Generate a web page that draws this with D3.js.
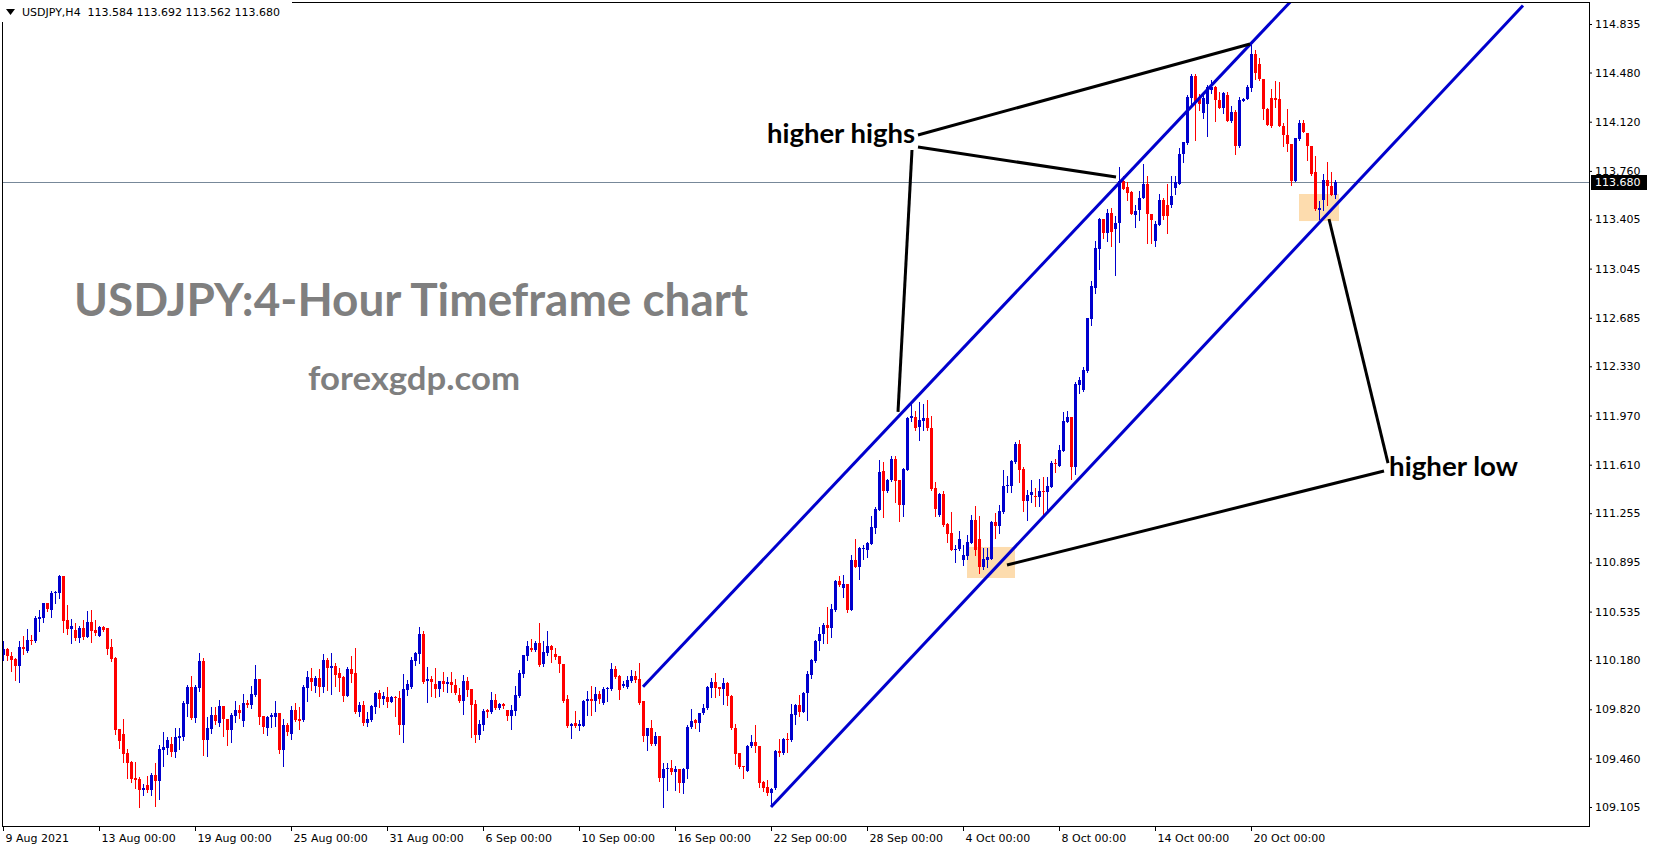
<!DOCTYPE html>
<html><head><meta charset="utf-8">
<script src="https://cdn.jsdelivr.net/npm/d3@7"></script>
<style>body{margin:0;background:#fff;overflow:hidden}svg{display:block}</style>
</head><body><svg id="c" width="1653" height="850"></svg>
<script>
const symbolInfo = "USDJPY,H4  113.584 113.692 113.562 113.680";
const titleText = "USDJPY:4-Hour Timeframe chart";
const siteText = "forexgdp.com";

const openP = [
110.218,110.262,110.211,110.189,110.137,110.276,110.247,110.330,110.320,110.481,
110.489,110.598,110.547,110.669,110.672,110.796,110.474,110.408,110.401,110.342,
110.415,110.350,110.459,110.401,110.357,110.423,110.415,110.276,110.196,109.676,
109.640,109.501,109.435,109.318,109.311,109.230,109.267,109.230,109.340,109.296,
109.523,109.537,109.567,109.508,109.611,109.618,109.859,109.984,109.757,109.976,
110.174,109.596,109.676,109.779,109.720,109.845,109.750,109.669,109.772,109.815,
109.735,109.867,109.852,109.925,110.042,109.772,109.684,109.764,109.764,109.793,
109.523,109.706,109.640,109.815,109.750,109.742,109.976,110.050,109.991,110.050,
109.984,110.181,110.123,110.137,110.086,110.057,109.918,110.115,110.086,109.801,
109.852,109.720,109.742,109.837,109.940,109.896,109.911,109.874,109.911,109.903,
109.706,109.962,109.984,110.174,110.225,110.372,110.028,110.042,110.006,109.969,
110.028,110.006,110.020,109.998,109.925,109.881,110.028,109.969,109.859,109.632,
109.706,109.815,109.801,109.889,109.830,109.859,109.815,109.772,109.808,109.918,
110.079,110.211,110.269,110.255,110.306,110.152,110.233,110.284,110.225,110.211,
110.152,109.896,109.698,109.720,109.698,109.698,109.881,109.896,109.881,109.932,
109.867,109.969,109.969,110.115,110.064,109.991,109.984,110.028,110.064,110.042,
109.881,109.625,109.684,109.567,109.625,109.318,109.384,109.391,109.362,109.384,
109.281,109.384,109.691,109.742,109.720,109.793,109.830,109.976,110.020,109.984,
109.969,110.013,109.918,109.684,109.501,109.406,109.369,109.552,109.581,109.552,
109.289,109.252,109.208,109.245,109.515,109.501,109.603,109.596,109.779,109.852,
109.801,109.940,110.072,110.174,110.320,110.372,110.437,110.418,110.547,110.759,
110.706,110.737,110.547,110.913,110.864,110.996,110.986,111.032,111.150,111.279,
111.564,111.418,111.498,111.652,111.498,111.315,111.572,111.952,111.959,111.886,
111.930,111.952,111.879,111.440,111.242,111.396,111.176,111.111,110.986,110.993,
110.913,110.942,111.037,111.206,111.067,110.862,110.913,110.920,111.191,111.162,
111.264,111.454,111.454,111.630,111.762,111.579,111.345,111.389,111.381,111.374,
111.418,111.411,111.447,111.623,111.601,111.710,111.923,111.959,111.593,112.193,
112.157,112.296,112.676,112.903,113.189,113.408,113.306,113.455,113.335,113.379,
113.686,113.642,113.606,113.437,113.474,113.562,113.664,113.445,113.247,113.364,
113.547,113.511,113.511,113.637,113.667,113.884,113.964,114.293,114.454,114.286,
114.184,114.250,114.352,114.374,114.279,114.220,114.315,114.125,114.191,113.942,
114.272,114.286,114.367,114.615,114.542,114.433,114.213,114.293,114.293,114.286,
114.089,114.023,113.957,113.686,113.993,114.111,114.037,113.942,113.752,113.474,
113.547,113.693,113.650,113.584
];
const highP = [
110.320,110.267,110.240,110.198,110.320,110.357,110.408,110.364,110.503,110.547,
110.598,110.598,110.686,110.686,110.803,110.796,110.584,110.481,110.452,110.430,
110.474,110.540,110.547,110.474,110.430,110.430,110.415,110.335,110.203,109.676,
109.750,109.530,109.442,109.435,109.325,109.274,109.333,109.355,109.428,109.559,
109.655,109.618,109.618,109.684,109.684,109.881,109.998,110.064,109.998,110.233,
110.196,109.764,109.837,109.837,109.889,109.845,109.750,109.793,109.881,109.852,
109.932,109.889,109.991,110.145,110.042,109.772,109.772,109.793,109.881,109.793,
109.750,109.720,109.845,109.867,109.837,109.998,110.101,110.123,110.064,110.115,
110.225,110.196,110.233,110.159,110.123,110.064,110.130,110.211,110.269,109.874,
109.881,109.801,109.852,109.947,109.962,109.947,109.984,109.918,109.918,109.955,
110.079,110.035,110.203,110.240,110.423,110.393,110.130,110.064,110.123,110.028,
110.094,110.057,110.094,110.042,109.976,110.072,110.057,109.969,109.889,109.742,
109.823,109.823,109.947,109.932,109.867,109.867,109.815,109.852,109.991,110.108,
110.218,110.320,110.335,110.320,110.452,110.320,110.393,110.291,110.269,110.211,
110.152,109.925,109.720,109.808,109.742,109.889,109.955,109.991,109.984,109.955,
109.984,109.984,110.159,110.137,110.072,110.028,110.064,110.108,110.101,110.159,
109.881,109.684,109.742,109.655,109.625,109.428,109.428,109.450,109.406,109.384,
109.391,109.706,109.823,109.750,109.793,109.859,109.991,110.050,110.086,109.984,
110.050,110.020,109.925,109.713,109.501,109.406,109.559,109.632,109.706,109.552,
109.296,109.303,109.245,109.523,109.603,109.611,109.647,109.859,109.859,109.925,
109.947,110.101,110.189,110.328,110.423,110.454,110.567,110.591,110.767,110.796,
110.803,110.737,110.950,111.067,111.011,111.023,111.045,111.237,111.303,111.645,
111.630,111.506,111.674,111.674,111.498,111.586,111.959,112.054,112.003,112.069,
112.054,112.084,111.967,111.484,111.403,111.418,111.184,111.264,111.023,111.125,
111.023,111.096,111.242,111.308,111.235,111.001,111.001,111.198,111.257,111.315,
111.572,111.528,111.645,111.776,111.791,111.593,111.425,111.498,111.440,111.506,
111.520,111.520,111.637,111.652,111.754,111.996,112.003,111.959,112.218,112.254,
112.328,112.684,112.954,113.247,113.415,113.408,113.480,113.489,113.430,113.791,
113.725,113.681,113.613,113.511,113.613,113.811,113.725,113.445,113.393,113.591,
113.562,113.664,113.725,113.725,113.930,113.974,114.315,114.469,114.469,114.323,
114.337,114.389,114.425,114.381,114.337,114.337,114.337,114.235,114.206,114.301,
114.293,114.389,114.681,114.645,114.586,114.433,114.220,114.359,114.418,114.411,
114.111,114.213,113.957,114.001,114.133,114.133,114.037,113.942,113.869,113.540,
113.737,113.825,113.752,113.692
];
const lowP = [
110.184,110.184,110.101,110.035,110.020,110.225,110.240,110.298,110.313,110.393,
110.459,110.540,110.496,110.598,110.635,110.386,110.372,110.306,110.328,110.313,
110.335,110.350,110.313,110.364,110.357,110.393,110.225,110.174,109.640,109.537,
109.435,109.318,109.289,109.245,109.106,109.194,109.216,109.194,109.113,109.164,
109.406,109.494,109.479,109.472,109.530,109.596,109.772,109.750,109.728,109.955,
109.486,109.479,109.647,109.713,109.698,109.625,109.559,109.581,109.728,109.757,
109.698,109.837,109.830,109.918,109.713,109.647,109.632,109.691,109.698,109.501,
109.406,109.632,109.603,109.735,109.676,109.735,109.881,109.962,109.947,109.918,
109.947,109.962,109.932,109.991,109.955,109.881,109.918,110.020,109.793,109.772,
109.706,109.698,109.735,109.793,109.837,109.859,109.837,109.874,109.772,109.640,
109.581,109.925,109.976,110.145,110.159,110.013,109.874,109.918,109.911,109.918,
109.955,109.947,109.947,109.932,109.874,109.786,109.918,109.618,109.581,109.603,
109.669,109.764,109.793,109.823,109.823,109.830,109.742,109.676,109.779,109.911,
110.057,110.181,110.247,110.247,110.137,110.137,110.218,110.167,110.189,110.094,
109.874,109.691,109.613,109.691,109.669,109.698,109.779,109.779,109.808,109.867,
109.859,109.881,109.962,110.050,109.896,109.984,109.976,110.020,110.020,109.859,
109.589,109.523,109.559,109.559,109.296,109.106,109.230,109.347,109.230,109.216,
109.208,109.318,109.684,109.684,109.662,109.786,109.823,109.911,109.911,109.925,
109.859,109.852,109.676,109.420,109.391,109.318,109.369,109.545,109.508,109.252,
109.223,109.194,109.113,109.237,109.479,109.494,109.508,109.589,109.713,109.772,
109.801,109.742,110.050,110.167,110.255,110.303,110.303,110.352,110.540,110.723,
110.640,110.530,110.547,110.864,110.776,110.923,110.932,111.032,111.113,111.279,
111.230,111.411,111.491,111.337,111.201,111.235,111.572,111.930,111.864,111.791,
111.864,111.864,111.425,111.235,111.235,111.162,111.045,110.986,110.898,110.986,
110.876,110.920,111.037,110.950,110.818,110.847,110.862,110.920,111.074,111.111,
111.257,111.411,111.411,111.623,111.484,111.272,111.206,111.337,111.308,111.308,
111.250,111.257,111.447,111.557,111.601,111.710,111.923,111.506,111.542,112.132,
112.152,112.289,112.632,112.867,113.042,113.271,113.250,113.208,112.998,113.237,
113.628,113.547,113.442,113.350,113.401,113.559,113.233,113.233,113.211,113.364,
113.408,113.306,113.498,113.593,113.667,113.828,113.957,114.228,113.986,114.206,
114.147,114.015,114.330,114.125,114.220,114.184,114.125,114.118,113.884,113.937,
114.272,114.286,114.345,114.433,114.425,114.140,114.096,114.081,114.228,114.089,
113.942,113.906,113.657,113.686,113.986,114.045,113.840,113.730,113.474,113.408,
113.474,113.511,113.584,113.562
];
const closeP = [
110.259,110.213,110.184,110.137,110.276,110.262,110.328,110.320,110.489,110.496,
110.598,110.554,110.672,110.679,110.796,110.467,110.408,110.430,110.342,110.415,
110.350,110.459,110.393,110.379,110.423,110.401,110.262,110.189,109.669,109.589,
109.494,109.428,109.311,109.303,109.230,109.245,109.230,109.340,109.296,109.530,
109.545,109.596,109.508,109.618,109.625,109.867,109.984,109.757,109.984,110.174,
109.596,109.684,109.779,109.735,109.845,109.750,109.669,109.779,109.815,109.793,
109.867,109.852,109.932,110.042,109.764,109.691,109.764,109.779,109.793,109.523,
109.706,109.655,109.815,109.742,109.735,109.984,110.057,110.020,110.050,109.984,
110.181,110.123,110.137,110.072,110.050,109.918,110.115,110.079,109.801,109.852,
109.720,109.750,109.845,109.940,109.896,109.918,109.874,109.911,109.903,109.706,
109.969,110.006,110.181,110.233,110.372,110.020,110.042,110.020,109.969,110.028,
110.006,110.020,109.998,109.940,109.881,110.028,109.962,109.852,109.632,109.713,
109.808,109.801,109.889,109.830,109.859,109.845,109.772,109.815,109.925,110.086,
110.218,110.284,110.255,110.306,110.145,110.240,110.284,110.255,110.203,110.152,
109.881,109.698,109.713,109.698,109.713,109.881,109.896,109.881,109.932,109.896,
109.969,109.976,110.115,110.057,109.962,110.006,110.035,110.064,110.035,109.867,
109.625,109.684,109.567,109.625,109.318,109.384,109.391,109.362,109.384,109.281,
109.384,109.691,109.735,109.720,109.793,109.830,109.984,110.020,109.976,109.969,
110.013,109.918,109.684,109.494,109.398,109.398,109.552,109.581,109.552,109.281,
109.245,109.208,109.237,109.515,109.501,109.603,109.596,109.786,109.852,109.801,
109.940,110.079,110.181,110.320,110.372,110.437,110.418,110.557,110.759,110.730,
110.737,110.547,110.913,110.864,111.001,111.003,111.040,111.157,111.286,111.557,
111.418,111.498,111.652,111.491,111.315,111.579,111.952,111.967,111.879,111.937,
111.952,111.879,111.432,111.286,111.396,111.169,111.103,110.986,110.993,111.067,
110.950,111.045,111.206,110.986,110.862,110.920,110.935,111.191,111.162,111.272,
111.454,111.462,111.637,111.762,111.572,111.345,111.389,111.411,111.376,111.418,
111.411,111.454,111.623,111.615,111.718,111.930,111.959,111.593,112.201,112.230,
112.303,112.684,112.918,113.196,113.408,113.306,113.452,113.310,113.379,113.686,
113.628,113.598,113.442,113.467,113.562,113.664,113.445,113.401,113.372,113.547,
113.430,113.430,113.579,113.681,113.884,113.972,114.301,114.454,114.257,114.250,
114.293,114.374,114.374,114.279,114.220,114.330,114.125,114.191,113.942,114.279,
114.286,114.374,114.615,114.476,114.433,114.213,114.096,114.089,114.279,114.089,
114.023,113.957,113.686,114.001,114.111,114.045,113.942,113.737,113.481,113.489,
113.693,113.650,113.584,113.680
];

const xTickBars = [0,24,48,72,96,120,144,168,192,216,240,264,288,312];
const xTickLabels = ["9 Aug 2021","13 Aug 00:00","19 Aug 00:00","25 Aug 00:00","31 Aug 00:00",
  "6 Sep 00:00","10 Sep 00:00","16 Sep 00:00","22 Sep 00:00","28 Sep 00:00","4 Oct 00:00",
  "8 Oct 00:00","14 Oct 00:00","20 Oct 00:00"];
const yTickValues = [114.835,114.480,114.120,113.760,113.405,113.045,112.685,112.330,111.970,
  111.610,111.255,110.895,110.535,110.180,109.820,109.460,109.105];
const lastPrice = 113.680;

// trend channel (bar index, price)
const upperChannel = [[160,109.985],[330,115.250]];
const lowerChannel = [[192,109.105],[380,114.970]];
// annotation arrows (bar index, price)
const highsLines = [
  [[228.75,114.023],[311.75,114.689]],
  [[228.75,113.935],[278.25,113.715]],
  [[227.25,113.913],[223.75,111.996]]
];
const lowLines = [
  [[346.25,111.622],[331.5,113.408]],
  [[345.25,111.564],[251,110.876]]
];
const zoneBoxes = [
  {b0:241,b1:253,p0:111.008,p1:110.781},
  {b0:324,b1:334,p0:113.591,p1:113.393}
];
const labelHighs = {text:"higher highs", bar:191, price:113.964};
const labelLow = {text:"higher low", bar:346.5, price:111.527};

const BLUE = "#0000cd", RED = "#ff0000";
const plot = {l:2, t:2, r:1589, b:826};

const svg = d3.select("#c");
svg.append("rect").attr("width",1653).attr("height",850).attr("fill","#fff");
svg.append("defs").append("clipPath").attr("id","plot")
  .append("rect").attr("x",plot.l+1).attr("y",plot.t+1)
  .attr("width",plot.r-plot.l-1).attr("height",plot.b-plot.t-1);

const x = d3.scaleLinear().domain([0,333]).range([3,1335]);
const y = d3.scaleLinear().domain([108.966,114.996]).range([826,2]);

const bars = openP.map((o,i)=>({i,o,h:highP[i],l:lowP[i],c:closeP[i]}));
const g = svg.append("g").attr("clip-path","url(#plot)");

// zones
g.selectAll("rect.zone").data(zoneBoxes).join("rect").attr("class","zone")
  .attr("x",d=>x(d.b0)).attr("width",d=>x(d.b1)-x(d.b0))
  .attr("y",d=>y(d.p0)).attr("height",d=>y(d.p1)-y(d.p0))
  .attr("fill","#fddcae");

// last price line
g.append("line").attr("x1",plot.l).attr("x2",plot.r)
  .attr("y1",Math.round(y(lastPrice))+0.5).attr("y2",Math.round(y(lastPrice))+0.5)
  .attr("stroke","#778899").attr("stroke-width",1);

// candles
const cg = g.append("g").attr("shape-rendering","crispEdges");
cg.selectAll("line").data(bars).join("line")
  .attr("x1",d=>Math.round(x(d.i))+0.5).attr("x2",d=>Math.round(x(d.i))+0.5)
  .attr("y1",d=>Math.round(y(d.h))).attr("y2",d=>Math.round(y(d.l))+1)
  .attr("stroke",d=>d.c>=d.o?BLUE:RED).attr("stroke-width",1);
cg.selectAll("rect").data(bars).join("rect")
  .attr("x",d=>Math.round(x(d.i))-1).attr("width",3)
  .attr("y",d=>Math.round(y(Math.max(d.o,d.c))))
  .attr("height",d=>Math.max(1,Math.round(y(Math.min(d.o,d.c)))-Math.round(y(Math.max(d.o,d.c)))))
  .attr("fill",d=>d.c>=d.o?BLUE:RED);

// channel
const line = d3.line().x(d=>x(d[0])).y(d=>y(d[1]));
g.selectAll("path.ch").data([upperChannel,lowerChannel]).join("path").attr("class","ch")
  .attr("d",line).attr("fill","none").attr("stroke",BLUE).attr("stroke-width",3);

// annotation lines
g.selectAll("path.ann").data(highsLines.concat(lowLines)).join("path").attr("class","ann")
  .attr("d",line).attr("fill","none").attr("stroke","#000").attr("stroke-width",3);

// annotation labels
[labelHighs,labelLow].forEach(L=>{
  g.append("text").attr("x",x(L.bar)).attr("y",y(L.price)).text(L.text)
   .attr("font-family","Lato, 'Open Sans', sans-serif").attr("font-weight","bold")
   .attr("font-size",26).attr("fill","#000")
   .attr("textLength",L===labelHighs?148:129).attr("lengthAdjust","spacingAndGlyphs");
});

// watermark texts
svg.append("text").attr("x",74).attr("y",316).text(titleText)
  .attr("font-family","Lato, 'Open Sans', sans-serif").attr("font-weight","bold")
  .attr("font-size",46).attr("fill","#7f7f7f")
  .attr("textLength",674).attr("lengthAdjust","spacingAndGlyphs");
svg.append("text").attr("x",308).attr("y",390).text(siteText)
  .attr("font-family","Lato, 'Open Sans', sans-serif").attr("font-weight","bold")
  .attr("font-size",33).attr("fill","#7f7f7f")
  .attr("textLength",212).attr("lengthAdjust","spacingAndGlyphs");

// border
svg.append("rect").attr("x",plot.l+0.5).attr("y",plot.t+0.5)
  .attr("width",plot.r-plot.l).attr("height",plot.b-plot.t)
  .attr("fill","none").attr("stroke","#000").attr("stroke-width",1);

// header
svg.append("rect").attr("x",0).attr("y",0).attr("width",292).attr("height",22).attr("fill","#fff");
svg.append("path").attr("d","M6,9 L15,9 L10.5,15 Z").attr("fill","#000");
svg.append("text").attr("x",22).attr("y",16).text(symbolInfo)
  .attr("font-family","'DejaVu Sans', sans-serif").attr("font-size",11).attr("fill","#000")
  .attr("xml:space","preserve").style("white-space","pre");

// axes
const xAxis = d3.axisBottom(x).tickValues(xTickBars).tickFormat((d,i)=>xTickLabels[i]).tickSize(5);
const gx = svg.append("g").attr("transform",`translate(0,${plot.b})`).call(xAxis);
gx.select(".domain").remove();
gx.selectAll("text").attr("text-anchor","start").attr("x",2).attr("y",8)
  .attr("font-family","'DejaVu Sans', sans-serif").attr("font-size",11).attr("fill","#000");
gx.selectAll("line").attr("stroke","#000");

const yAxis = d3.axisRight(y).tickValues(yTickValues).tickFormat(d3.format(".3f")).tickSize(3);
const gy = svg.append("g").attr("transform",`translate(${plot.r},0)`).call(yAxis);
gy.select(".domain").remove();
gy.selectAll("text").attr("x",6)
  .attr("font-family","'DejaVu Sans', sans-serif").attr("font-size",11).attr("fill","#000");
gy.selectAll("line").attr("stroke","#000");

// last price tag
const ly = Math.round(y(lastPrice));
svg.append("rect").attr("x",plot.r+2).attr("y",ly-7).attr("width",56).attr("height",15).attr("fill","#000");
svg.append("text").attr("x",plot.r+6).attr("y",ly).attr("dy","0.35em").text(d3.format(".3f")(lastPrice))
  .attr("font-family","'DejaVu Sans', sans-serif").attr("font-size",11).attr("fill","#fff");
</script></body></html>
